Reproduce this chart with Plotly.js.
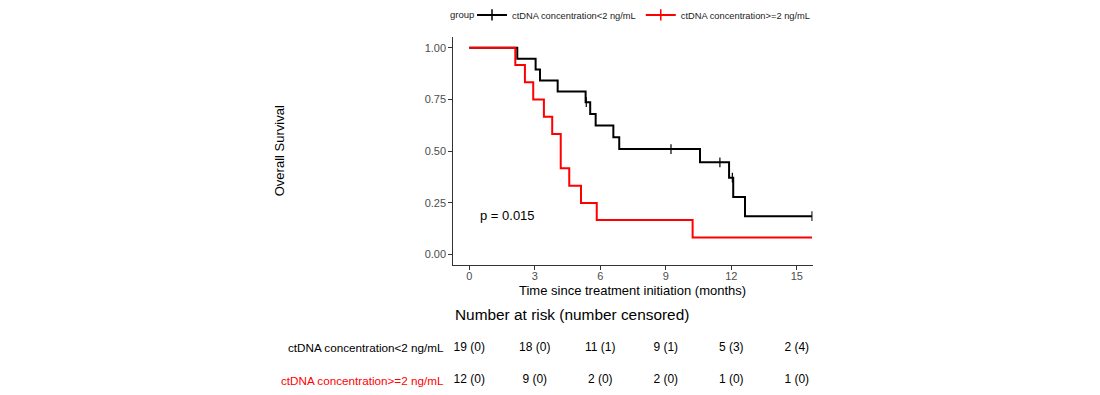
<!DOCTYPE html>
<html>
<head>
<meta charset="utf-8">
<script src="https://cdn.plot.ly/plotly-3.0.1.min.js"></script>
<style>html,body{margin:0;padding:0;background:#fff;}#chart{width:1100px;height:395px;}</style>
</head>
<body>
<div id="chart"></div>
<script>
// ---- data ----
const groupNames = ["ctDNA concentration<2 ng/mL", "ctDNA concentration>=2 ng/mL"];
const groupColors = ["#000000", "#FF0000"];
const legendTitle = "group";

// Kaplan-Meier step curve, group 1 (<2 ng/mL)
const timeLow = [0, 2.2, 3.04, 3.24, 4.05, 5.33, 5.54, 5.79, 6.6, 6.87, 10.57, 11.9, 12.09, 12.63, 15.7];
const survLow = [1, 0.947, 0.895, 0.842, 0.789, 0.737, 0.680, 0.624, 0.567, 0.510, 0.446, 0.372, 0.279, 0.186, 0.186];
const censorTimeLow = [5.36, 9.24, 11.48, 12.05, 15.7];
const censorSurvLow = [0.737, 0.510, 0.446, 0.372, 0.186];

// Kaplan-Meier step curve, group 2 (>=2 ng/mL)
const timeHigh = [0, 2.11, 2.55, 2.93, 3.42, 3.8, 4.19, 4.58, 5.12, 5.84, 10.23, 15.7];
const survHigh = [1, 0.917, 0.833, 0.75, 0.667, 0.583, 0.417, 0.333, 0.25, 0.167, 0.083, 0.083];

// Number at risk table
const riskTimes = [0, 3, 6, 9, 12, 15];
const atRiskLow = [19, 18, 11, 9, 5, 2];
const censoredLow = [0, 0, 1, 1, 3, 4];
const atRiskHigh = [12, 9, 2, 2, 1, 1];
const censoredHigh = [0, 0, 0, 0, 0, 0];

const xTicks = [0, 3, 6, 9, 12, 15];
const yTicks = [0, 0.25, 0.5, 0.75, 1];
const yTickText = ["0.00", "0.25", "0.50", "0.75", "1.00"];
const pValueText = "p = 0.015";

// ---- build ----
const FONT = "Liberation Sans, Arial, sans-serif";
const W = 1100, H = 395;

const traces = [];
traces.push({x: timeLow, y: survLow, type: 'scatter', mode: 'lines', line: {shape: 'hv', color: groupColors[0], width: 2}, showlegend: false, hoverinfo: 'skip', xaxis: 'x', yaxis: 'y'});
traces.push({x: censorTimeLow, y: censorSurvLow, type: 'scatter', mode: 'markers', marker: {symbol: 'line-ns-open', size: 7, color: groupColors[0], line: {color: groupColors[0], width: 1.2}}, showlegend: false, hoverinfo: 'skip', xaxis: 'x', yaxis: 'y'});
traces.push({x: timeHigh, y: survHigh, type: 'scatter', mode: 'lines', line: {shape: 'hv', color: groupColors[1], width: 2}, showlegend: false, hoverinfo: 'skip', xaxis: 'x', yaxis: 'y'});
groupNames.forEach((g, i) => {
  traces.push({x: [null], y: [null], type: 'scatter', mode: 'lines+markers', name: g,
    line: {color: groupColors[i], width: 2},
    marker: {symbol: 'line-ns-open', size: 8, color: groupColors[i], line: {color: groupColors[i], width: 1.5}},
    xaxis: 'x', yaxis: 'y'});
});
const fmt = (a, c) => a.map((v, i) => v + " (" + c[i] + ")");
traces.push({x: riskTimes, y: riskTimes.map(() => 2), text: fmt(atRiskLow, censoredLow), type: 'scatter', mode: 'text', textposition: 'middle center', textfont: {family: FONT, size: 12, color: '#000'}, showlegend: false, hoverinfo: 'skip', xaxis: 'x2', yaxis: 'y2'});
traces.push({x: riskTimes, y: riskTimes.map(() => 1), text: fmt(atRiskHigh, censoredHigh), type: 'scatter', mode: 'text', textposition: 'middle center', textfont: {family: FONT, size: 12, color: '#000'}, showlegend: false, hoverinfo: 'skip', xaxis: 'x2', yaxis: 'y2'});

const px = v => v / W;
const py = v => (H - v) / H;

const layout = {
  width: W, height: H,
  margin: {l: 0, r: 0, t: 0, b: 0},
  paper_bgcolor: '#fff', plot_bgcolor: '#fff',
  font: {family: FONT, color: '#000'},
  showlegend: true,
  legend: {orientation: 'h', x: px(472), xanchor: 'left', y: py(13), yanchor: 'middle',
    font: {size: 9.3, color: '#222'},
    bgcolor: 'rgba(0,0,0,0)', itemwidth: 30, tracegroupgap: 0},
  xaxis: {domain: [px(453.3), px(812.7)], range: [-0.73, 15.73], tickvals: xTicks, ticktext: xTicks.map(String),
    showline: true, linecolor: '#333', linewidth: 1, ticks: 'outside', ticklen: 4, tickcolor: '#333', tickwidth: 1,
    ticklabelstandoff: -3,
    showgrid: false, zeroline: false, tickfont: {size: 11, color: '#4D4D4D'}, anchor: 'y', fixedrange: true},
  yaxis: {domain: [py(264.3), py(35.6)], range: [-0.05, 1.05], tickvals: yTicks, ticktext: yTickText,
    showline: true, linecolor: '#333', linewidth: 1, ticks: 'outside', ticklen: 4, tickcolor: '#333', tickwidth: 1,
    showgrid: false, zeroline: false, tickfont: {size: 11, color: '#4D4D4D'}, anchor: 'x', fixedrange: true},
  xaxis2: {domain: [px(453.3), px(812.7)], range: [-0.73, 15.73], visible: false, anchor: 'y2'},
  yaxis2: {domain: [0, 0.29], range: [0.5356, 4.082], visible: false, anchor: 'x2'},
  annotations: [
    {text: legendTitle, xref: 'paper', yref: 'paper', x: px(476), y: py(13), showarrow: false, font: {size: 9.5, color: '#222'}, xanchor: 'right', yanchor: 'middle'},
    {text: 'Overall Survival', xref: 'paper', yref: 'paper', x: px(279), y: py(150), textangle: -90, showarrow: false, font: {size: 13, color: '#000'}, xanchor: 'center', yanchor: 'middle'},
    {text: 'Time since treatment initiation (months)', xref: 'paper', yref: 'paper', x: px(632.5), y: py(290), showarrow: false, font: {size: 13, color: '#000'}, xanchor: 'center', yanchor: 'middle'},
    {text: pValueText, xref: 'x', yref: 'y', x: 0.4, y: 0.19, showarrow: false, font: {size: 13, color: '#000'}, xanchor: 'left', yanchor: 'middle'},
    {text: 'Number at risk (number censored)', xref: 'paper', yref: 'paper', x: px(453), y: py(314), showarrow: false, font: {size: 15.4, color: '#000'}, xanchor: 'left', yanchor: 'middle'},
    {text: groupNames[0], xref: 'paper', yref: 'y2', x: px(445.5), y: 2, showarrow: false, font: {size: 11.7, color: groupColors[0]}, xanchor: 'right', yanchor: 'middle'},
    {text: groupNames[1], xref: 'paper', yref: 'y2', x: px(445.5), y: 1, showarrow: false, font: {size: 11.7, color: groupColors[1]}, xanchor: 'right', yanchor: 'middle'}
  ]
};

Plotly.newPlot('chart', traces, layout, {displayModeBar: false, staticPlot: true});
</script>
</body>
</html>
